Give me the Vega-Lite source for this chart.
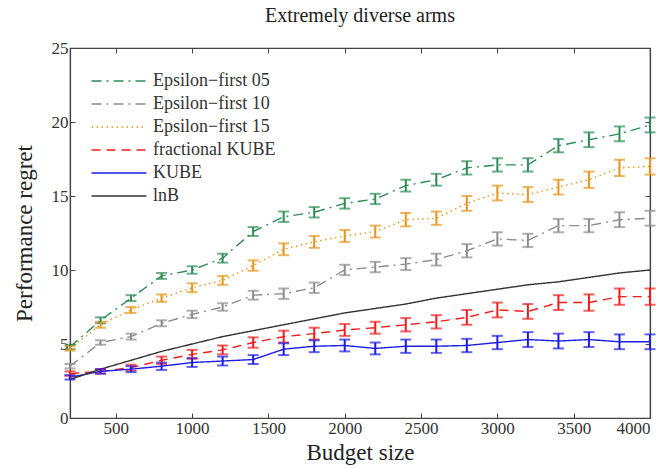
{
  "$schema": "https://vega.github.io/schema/vega-lite/v6.json",
  "width": 580,
  "height": 370,
  "autosize": {"type": "none"},
  "padding": {"left": 70, "top": 48, "right": 20, "bottom": 50},
  "background": "white",
  "title": {"text": "Extremely diverse arms", "font": "Liberation Serif", "fontSize": 20, "fontWeight": "normal", "color": "#222", "offset": 13},
  "config": {
    "view": {"stroke": "#444", "strokeWidth": 1.2},
    "axis": {"labelFont": "Liberation Serif", "titleFont": "Liberation Serif", "labelFontSize": 17, "labelColor": "#333", "titleColor": "#222", "titleFontWeight": "normal", "grid": false, "domainColor": "#444", "tickColor": "#444", "tickSize": -5, "domainWidth": 1.2, "format": "d"}
  },
  "data": {"values": [
    {"s": "Epsilon\u2212first 05", "b": 200, "v": 4.8, "e": 0.15},
    {"s": "Epsilon\u2212first 05", "b": 400, "v": 6.6, "e": 0.2},
    {"s": "Epsilon\u2212first 05", "b": 600, "v": 8.1, "e": 0.2},
    {"s": "Epsilon\u2212first 05", "b": 800, "v": 9.6, "e": 0.2},
    {"s": "Epsilon\u2212first 05", "b": 1000, "v": 10.0, "e": 0.25},
    {"s": "Epsilon\u2212first 05", "b": 1200, "v": 10.8, "e": 0.3},
    {"s": "Epsilon\u2212first 05", "b": 1400, "v": 12.6, "e": 0.3},
    {"s": "Epsilon\u2212first 05", "b": 1600, "v": 13.6, "e": 0.35},
    {"s": "Epsilon\u2212first 05", "b": 1800, "v": 13.9, "e": 0.35},
    {"s": "Epsilon\u2212first 05", "b": 2000, "v": 14.5, "e": 0.35},
    {"s": "Epsilon\u2212first 05", "b": 2200, "v": 14.8, "e": 0.35},
    {"s": "Epsilon\u2212first 05", "b": 2400, "v": 15.7, "e": 0.4},
    {"s": "Epsilon\u2212first 05", "b": 2600, "v": 16.1, "e": 0.4},
    {"s": "Epsilon\u2212first 05", "b": 2800, "v": 16.9, "e": 0.45},
    {"s": "Epsilon\u2212first 05", "b": 3000, "v": 17.1, "e": 0.45},
    {"s": "Epsilon\u2212first 05", "b": 3200, "v": 17.1, "e": 0.45},
    {"s": "Epsilon\u2212first 05", "b": 3400, "v": 18.4, "e": 0.45},
    {"s": "Epsilon\u2212first 05", "b": 3600, "v": 18.8, "e": 0.5},
    {"s": "Epsilon\u2212first 05", "b": 3800, "v": 19.2, "e": 0.5},
    {"s": "Epsilon\u2212first 05", "b": 4000, "v": 19.8, "e": 0.5},
    {"s": "Epsilon\u2212first 10", "b": 200, "v": 3.5, "e": 0.15},
    {"s": "Epsilon\u2212first 10", "b": 400, "v": 5.1, "e": 0.15},
    {"s": "Epsilon\u2212first 10", "b": 600, "v": 5.5, "e": 0.2},
    {"s": "Epsilon\u2212first 10", "b": 800, "v": 6.4, "e": 0.2},
    {"s": "Epsilon\u2212first 10", "b": 1000, "v": 7.0, "e": 0.25},
    {"s": "Epsilon\u2212first 10", "b": 1200, "v": 7.5, "e": 0.25},
    {"s": "Epsilon\u2212first 10", "b": 1400, "v": 8.3, "e": 0.3},
    {"s": "Epsilon\u2212first 10", "b": 1600, "v": 8.4, "e": 0.35},
    {"s": "Epsilon\u2212first 10", "b": 1800, "v": 8.8, "e": 0.35},
    {"s": "Epsilon\u2212first 10", "b": 2000, "v": 10.0, "e": 0.35},
    {"s": "Epsilon\u2212first 10", "b": 2200, "v": 10.2, "e": 0.35},
    {"s": "Epsilon\u2212first 10", "b": 2400, "v": 10.4, "e": 0.4},
    {"s": "Epsilon\u2212first 10", "b": 2600, "v": 10.7, "e": 0.4},
    {"s": "Epsilon\u2212first 10", "b": 2800, "v": 11.3, "e": 0.45},
    {"s": "Epsilon\u2212first 10", "b": 3000, "v": 12.1, "e": 0.45},
    {"s": "Epsilon\u2212first 10", "b": 3200, "v": 12.0, "e": 0.45},
    {"s": "Epsilon\u2212first 10", "b": 3400, "v": 13.0, "e": 0.45},
    {"s": "Epsilon\u2212first 10", "b": 3600, "v": 13.0, "e": 0.45},
    {"s": "Epsilon\u2212first 10", "b": 3800, "v": 13.4, "e": 0.5},
    {"s": "Epsilon\u2212first 10", "b": 4000, "v": 13.5, "e": 0.5},
    {"s": "Epsilon\u2212first 15", "b": 200, "v": 4.7, "e": 0.15},
    {"s": "Epsilon\u2212first 15", "b": 400, "v": 6.3, "e": 0.2},
    {"s": "Epsilon\u2212first 15", "b": 600, "v": 7.3, "e": 0.2},
    {"s": "Epsilon\u2212first 15", "b": 800, "v": 8.1, "e": 0.25},
    {"s": "Epsilon\u2212first 15", "b": 1000, "v": 8.8, "e": 0.3},
    {"s": "Epsilon\u2212first 15", "b": 1200, "v": 9.3, "e": 0.3},
    {"s": "Epsilon\u2212first 15", "b": 1400, "v": 10.3, "e": 0.35},
    {"s": "Epsilon\u2212first 15", "b": 1600, "v": 11.4, "e": 0.4},
    {"s": "Epsilon\u2212first 15", "b": 1800, "v": 11.9, "e": 0.4},
    {"s": "Epsilon\u2212first 15", "b": 2000, "v": 12.3, "e": 0.4},
    {"s": "Epsilon\u2212first 15", "b": 2200, "v": 12.6, "e": 0.4},
    {"s": "Epsilon\u2212first 15", "b": 2400, "v": 13.4, "e": 0.45},
    {"s": "Epsilon\u2212first 15", "b": 2600, "v": 13.5, "e": 0.45},
    {"s": "Epsilon\u2212first 15", "b": 2800, "v": 14.5, "e": 0.5},
    {"s": "Epsilon\u2212first 15", "b": 3000, "v": 15.2, "e": 0.5},
    {"s": "Epsilon\u2212first 15", "b": 3200, "v": 15.1, "e": 0.5},
    {"s": "Epsilon\u2212first 15", "b": 3400, "v": 15.6, "e": 0.5},
    {"s": "Epsilon\u2212first 15", "b": 3600, "v": 16.1, "e": 0.55},
    {"s": "Epsilon\u2212first 15", "b": 3800, "v": 16.9, "e": 0.55},
    {"s": "Epsilon\u2212first 15", "b": 4000, "v": 17.0, "e": 0.55},
    {"s": "fractional KUBE", "b": 200, "v": 3.0, "e": 0.15},
    {"s": "fractional KUBE", "b": 400, "v": 3.15, "e": 0.15},
    {"s": "fractional KUBE", "b": 600, "v": 3.4, "e": 0.2},
    {"s": "fractional KUBE", "b": 800, "v": 3.9, "e": 0.25},
    {"s": "fractional KUBE", "b": 1000, "v": 4.3, "e": 0.3},
    {"s": "fractional KUBE", "b": 1200, "v": 4.6, "e": 0.3},
    {"s": "fractional KUBE", "b": 1400, "v": 5.1, "e": 0.35},
    {"s": "fractional KUBE", "b": 1600, "v": 5.5, "e": 0.4},
    {"s": "fractional KUBE", "b": 1800, "v": 5.7, "e": 0.4},
    {"s": "fractional KUBE", "b": 2000, "v": 5.95, "e": 0.4},
    {"s": "fractional KUBE", "b": 2200, "v": 6.1, "e": 0.4},
    {"s": "fractional KUBE", "b": 2400, "v": 6.3, "e": 0.45},
    {"s": "fractional KUBE", "b": 2600, "v": 6.5, "e": 0.45},
    {"s": "fractional KUBE", "b": 2800, "v": 6.8, "e": 0.5},
    {"s": "fractional KUBE", "b": 3000, "v": 7.3, "e": 0.5},
    {"s": "fractional KUBE", "b": 3200, "v": 7.2, "e": 0.5},
    {"s": "fractional KUBE", "b": 3400, "v": 7.8, "e": 0.5},
    {"s": "fractional KUBE", "b": 3600, "v": 7.8, "e": 0.55},
    {"s": "fractional KUBE", "b": 3800, "v": 8.2, "e": 0.55},
    {"s": "fractional KUBE", "b": 4000, "v": 8.2, "e": 0.55},
    {"s": "KUBE", "b": 200, "v": 2.75, "e": 0.15},
    {"s": "KUBE", "b": 400, "v": 3.15, "e": 0.15},
    {"s": "KUBE", "b": 600, "v": 3.3, "e": 0.2},
    {"s": "KUBE", "b": 800, "v": 3.5, "e": 0.25},
    {"s": "KUBE", "b": 1000, "v": 3.75, "e": 0.3},
    {"s": "KUBE", "b": 1200, "v": 3.85, "e": 0.3},
    {"s": "KUBE", "b": 1400, "v": 3.95, "e": 0.3},
    {"s": "KUBE", "b": 1600, "v": 4.65, "e": 0.4},
    {"s": "KUBE", "b": 1800, "v": 4.85, "e": 0.4},
    {"s": "KUBE", "b": 2000, "v": 4.9, "e": 0.4},
    {"s": "KUBE", "b": 2200, "v": 4.7, "e": 0.4},
    {"s": "KUBE", "b": 2400, "v": 4.85, "e": 0.45},
    {"s": "KUBE", "b": 2600, "v": 4.85, "e": 0.45},
    {"s": "KUBE", "b": 2800, "v": 4.9, "e": 0.45},
    {"s": "KUBE", "b": 3000, "v": 5.1, "e": 0.45},
    {"s": "KUBE", "b": 3200, "v": 5.3, "e": 0.5},
    {"s": "KUBE", "b": 3400, "v": 5.2, "e": 0.5},
    {"s": "KUBE", "b": 3600, "v": 5.3, "e": 0.5},
    {"s": "KUBE", "b": 3800, "v": 5.15, "e": 0.5},
    {"s": "KUBE", "b": 4000, "v": 5.15, "e": 0.5},
    {"s": "lnB", "b": 200, "v": 2.6},
    {"s": "lnB", "b": 400, "v": 3.3},
    {"s": "lnB", "b": 600, "v": 3.9},
    {"s": "lnB", "b": 800, "v": 4.5},
    {"s": "lnB", "b": 1000, "v": 5.0},
    {"s": "lnB", "b": 1200, "v": 5.5},
    {"s": "lnB", "b": 1400, "v": 5.9},
    {"s": "lnB", "b": 1600, "v": 6.3},
    {"s": "lnB", "b": 1800, "v": 6.7},
    {"s": "lnB", "b": 2000, "v": 7.1},
    {"s": "lnB", "b": 2200, "v": 7.4},
    {"s": "lnB", "b": 2400, "v": 7.7},
    {"s": "lnB", "b": 2600, "v": 8.1},
    {"s": "lnB", "b": 2800, "v": 8.4},
    {"s": "lnB", "b": 3000, "v": 8.7},
    {"s": "lnB", "b": 3200, "v": 9.0},
    {"s": "lnB", "b": 3400, "v": 9.2},
    {"s": "lnB", "b": 3600, "v": 9.5},
    {"s": "lnB", "b": 3800, "v": 9.8},
    {"s": "lnB", "b": 4000, "v": 10.0}
  ]},
  "layer": [
    {
      "mark": {"type": "line", "clip": true},
      "encoding": {
        "x": {"field": "b", "type": "quantitative", "scale": {"domain": [200, 4000], "nice": false, "zero": false},
              "axis": {"orient": "bottom", "values": [500, 1000, 1500, 2000, 2500, 3000, 3500, 4000], "title": "Budget size", "titleFontSize": 23, "titlePadding": 5, "labelPadding": 7}},
        "y": {"field": "v", "type": "quantitative", "scale": {"domain": [0, 25], "nice": false},
              "axis": {"orient": "left", "values": [0, 5, 10, 15, 20, 25], "title": "Performance regret", "titleFontSize": 23, "titlePadding": 15, "labelPadding": 7}},
        "color": {"field": "s", "type": "nominal",
                  "scale": {"domain": ["Epsilon\u2212first 05", "Epsilon\u2212first 10", "Epsilon\u2212first 15", "fractional KUBE", "KUBE", "lnB"],
                            "range": ["#2e8b57", "#8c8c8c", "#e8941a", "#f01c1c", "#1c1ce6", "#333333"]},
                  "legend": {"title": null, "orient": "none", "legendX": 40, "legendY": 24, "labelFont": "Liberation Serif", "labelFontSize": 18, "labelColor": "#333", "symbolType": "M-5,0H5", "symbolSize": 121, "rowPadding": 5, "labelOffset": 25}},
        "strokeDash": {"field": "s", "type": "nominal",
                  "scale": {"domain": ["Epsilon\u2212first 05", "Epsilon\u2212first 10", "Epsilon\u2212first 15", "fractional KUBE", "KUBE", "lnB"],
                            "range": [[10, 5, 2, 5], [10, 5, 2, 5], [1.5, 3.5], [9, 6], [1, 0], [1, 0]]}},
        "strokeWidth": {"field": "s", "type": "nominal",
                  "scale": {"domain": ["Epsilon\u2212first 05", "Epsilon\u2212first 10", "Epsilon\u2212first 15", "fractional KUBE", "KUBE", "lnB"],
                            "range": [1.4, 1.4, 1.5, 1.8, 2.2, 1.1]}}
      }
    },
    {
      "transform": [{"filter": "datum.s !== 'lnB'"}],
      "mark": {"type": "errorbar", "ticks": {"size": 11, "thickness": 2}, "thickness": 2},
      "encoding": {
        "x": {"field": "b", "type": "quantitative", "axis": null},
        "y": {"field": "v", "type": "quantitative", "axis": null},
        "yError": {"field": "e"},
        "color": {"field": "s", "type": "nominal", "legend": null}
      }
    },
    {
      "transform": [{"filter": "datum.s === 'lnB'"}],
      "mark": {"type": "point", "opacity": 0},
      "encoding": {
        "x": {"field": "b", "type": "quantitative", "axis": {"orient": "top", "values": [500, 1000, 1500, 2000, 2500, 3000, 3500, 4000], "labels": false, "title": null}},
        "y": {"field": "v", "type": "quantitative", "axis": {"orient": "right", "values": [0, 5, 10, 15, 20, 25], "labels": false, "title": null}}
      }
    }
  ],
  "resolve": {"axis": {"x": "independent", "y": "independent"}}
}
